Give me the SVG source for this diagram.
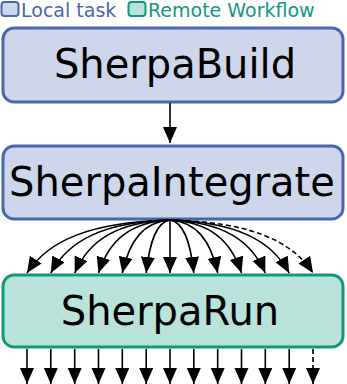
<svg xmlns="http://www.w3.org/2000/svg" width="347" height="384" viewBox="0 0 347 384">
  <style>
    .local { fill: #cdd6ea; stroke: #4a66ac; stroke-width: 3; }
    .remote { fill: #b8e2da; stroke: #15977e; stroke-width: 3; }
    .label { font-family: "DejaVu Sans", sans-serif; font-size: 40px; fill: #000; text-anchor: middle; }
    .legend { font-family: "DejaVu Sans", sans-serif; font-size: 19px; }
    .edge { fill: none; stroke: #000; stroke-width: 1.6; marker-end: url(#arrow); }
    .dashed { stroke-dasharray: 5 3; }
  </style>
  <defs>
    <marker id="arrow" markerUnits="userSpaceOnUse" markerWidth="17" markerHeight="15" refX="16" refY="7" orient="auto">
      <path d="M0,0 L16,7 L0,14 z" fill="#000"/>
    </marker>
  </defs>

  <!-- legend -->
  <g id="legend">
    <rect x="1.5" y="2" width="17" height="14" rx="3" class="local" style="stroke-width:2"/>
    <text x="21" y="17" class="legend" fill="#4a66ac">Local task</text>
    <rect x="128.5" y="2" width="17" height="14" rx="3" class="remote" style="stroke-width:2"/>
    <text x="148" y="17" class="legend" fill="#13977d">Remote Workflow</text>
  </g>

  <!-- nodes -->
  <g id="sherpa-build">
    <rect x="3" y="28" width="340" height="74" rx="11" class="local"/>
    <text x="175" y="78" class="label">SherpaBuild</text>
  </g>
  <g id="sherpa-integrate">
    <rect x="3" y="146" width="340" height="73" rx="11" class="local"/>
    <text x="172" y="196" class="label">SherpaIntegrate</text>
  </g>
  <g id="sherpa-run">
    <rect x="3" y="275" width="340" height="72" rx="11" class="remote"/>
    <text x="170" y="325" class="label">SherpaRun</text>
  </g>

  <!-- connectors -->
  <g id="edges">
    <path class="edge" d="M170,103 L170,143"/>
    <path class="edge" d="M170,220 C91.4,222 48.5,240 27,273"/>
    <path class="edge" d="M170,220 C104.4,222 68.7,240 50.8,273"/>
    <path class="edge" d="M170,220 C117.6,222 89,240 74.7,273"/>
    <path class="edge" d="M170,220 C130.7,222 109.2,240 98.5,273"/>
    <path class="edge" d="M170,220 C143.8,222 129.5,240 122.3,273"/>
    <path class="edge" d="M170,220 C156.9,222 149.8,240 146.2,273"/>
    <path class="edge" d="M170,220 L170,273"/>
    <path class="edge" d="M170,220 C183.1,222 190.2,240 193.8,273"/>
    <path class="edge" d="M170,220 C196.2,222 210.5,240 217.7,273"/>
    <path class="edge" d="M170,220 C209.3,222 230.8,240 241.5,273"/>
    <path class="edge" d="M170,220 C222.4,222 251,240 265.3,273"/>
    <path class="edge" d="M170,220 C235.6,222 271.3,240 289.2,273"/>
    <path class="edge dashed" d="M170,220 C248.6,222 291.5,240 313,273"/>

    <path class="edge" d="M27,349 L27,384"/>
    <path class="edge" d="M50.8,349 L50.8,384"/>
    <path class="edge" d="M74.7,349 L74.7,384"/>
    <path class="edge" d="M98.5,349 L98.5,384"/>
    <path class="edge" d="M122.3,349 L122.3,384"/>
    <path class="edge" d="M146.2,349 L146.2,384"/>
    <path class="edge" d="M170,349 L170,384"/>
    <path class="edge" d="M193.8,349 L193.8,384"/>
    <path class="edge" d="M217.7,349 L217.7,384"/>
    <path class="edge" d="M241.5,349 L241.5,384"/>
    <path class="edge" d="M265.3,349 L265.3,384"/>
    <path class="edge" d="M289.2,349 L289.2,384"/>
    <path class="edge dashed" d="M313,349 L313,384"/>
  </g>
</svg>
